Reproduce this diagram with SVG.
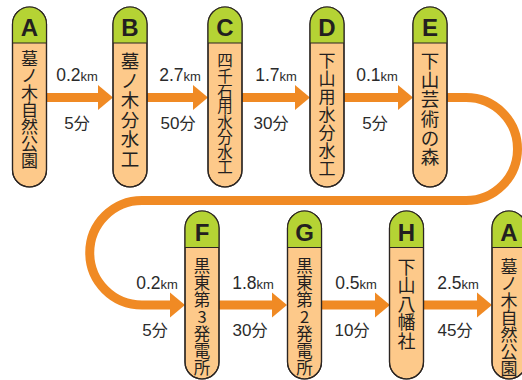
<svg xmlns="http://www.w3.org/2000/svg" width="522" height="380" viewBox="0 0 522 380">
<defs>
<style>
.body{fill:#fdc98a;stroke:#2b2522;stroke-width:1.2}
.head{fill:#b5d334}
.sep{stroke:#2b2522;stroke-width:1.2}
.let{font-family:"Liberation Sans",Arial,sans-serif;font-weight:bold;font-size:24px;fill:#231f20;text-anchor:middle}
.vt{font-family:"Noto Sans CJK JP",sans-serif;fill:#231f20;text-anchor:middle}
.km{font-family:"Liberation Sans","Noto Sans CJK JP",sans-serif;font-size:17.5px;fill:#2b2b2b;text-anchor:middle}
.km tspan.u{font-size:13px}
.min{font-family:"Liberation Sans","Noto Sans CJK JP",sans-serif;font-size:17px;fill:#2b2b2b;text-anchor:middle}
.min tspan.u{font-family:"Noto Sans CJK JP",sans-serif;font-size:16px}
.conn{fill:none;stroke:#f08a24;stroke-width:9}
</style>
<marker id="ah" markerUnits="userSpaceOnUse" markerWidth="16" markerHeight="26" refX="0" refY="12.5" orient="auto" overflow="visible">
<path d="M0,0 L15,12.5 L0,25 Z" fill="#f08a24"/>
</marker>
</defs>

<g id="connectors">
<path class="conn" d="M46,97.5 H98" marker-end="url(#ah)"/>
<path class="conn" d="M147,97.5 H193" marker-end="url(#ah)"/>
<path class="conn" d="M242,97.5 H295" marker-end="url(#ah)"/>
<path class="conn" d="M344,97.5 H398" marker-end="url(#ah)"/>
<path class="conn" d="M446,97.5 H466 A51.5,51.5 0 0 1 466,200.5 H142 A52.25,52.25 0 0 0 142,305 H170" marker-end="url(#ah)"/>
<path class="conn" d="M219,305 H272" marker-end="url(#ah)"/>
<path class="conn" d="M321,305 H375" marker-end="url(#ah)"/>
<path class="conn" d="M423,305 H477" marker-end="url(#ah)"/>
</g>

<g id="labels">
<text class="km" x="77" y="81">0.2<tspan class="u">km</tspan></text>
<text class="min" x="77" y="129">5<tspan class="u">分</tspan></text>
<text class="km" x="180" y="81">2.7<tspan class="u">km</tspan></text>
<text class="min" x="178" y="129">50<tspan class="u">分</tspan></text>
<text class="km" x="276" y="81">1.7<tspan class="u">km</tspan></text>
<text class="min" x="271" y="129">30<tspan class="u">分</tspan></text>
<text class="km" x="377" y="81">0.1<tspan class="u">km</tspan></text>
<text class="min" x="375" y="129">5<tspan class="u">分</tspan></text>
<text class="km" x="157" y="289">0.2<tspan class="u">km</tspan></text>
<text class="min" x="155" y="336">5<tspan class="u">分</tspan></text>
<text class="km" x="253" y="289">1.8<tspan class="u">km</tspan></text>
<text class="min" x="250" y="336">30<tspan class="u">分</tspan></text>
<text class="km" x="356" y="289">0.5<tspan class="u">km</tspan></text>
<text class="min" x="352" y="336">10<tspan class="u">分</tspan></text>
<text class="km" x="458" y="289">2.5<tspan class="u">km</tspan></text>
<text class="min" x="455" y="336">45<tspan class="u">分</tspan></text>
</g>

<g id="node-A">
<rect class="body" x="12.5" y="7" width="34" height="180" rx="17"/>
<path class="head" d="M12.5,43 V24 A17,17 0 0 1 46.5,24 V43 Z"/>
<rect x="12.5" y="7" width="34" height="180" rx="17" fill="none" stroke="#2b2522" stroke-width="1.2"/>
<line class="sep" x1="12.5" y1="43" x2="46.5" y2="43"/>
<text class="let" x="29.5" y="36">A</text>
<text class="vt" font-size="17"><tspan x="29.5" y="64.6">墓</tspan><tspan x="29.5" y="81.6">ノ</tspan><tspan x="29.5" y="98.6">木</tspan><tspan x="29.5" y="115.6">自</tspan><tspan x="29.5" y="132.6">然</tspan><tspan x="29.5" y="149.6">公</tspan><tspan x="29.5" y="166.6">園</tspan></text>
</g>

<g id="node-B">
<rect class="body" x="113" y="7" width="34" height="180" rx="17"/>
<path class="head" d="M113,43 V24 A17,17 0 0 1 147,24 V43 Z"/>
<rect x="113" y="7" width="34" height="180" rx="17" fill="none" stroke="#2b2522" stroke-width="1.2"/>
<line class="sep" x1="113" y1="43" x2="147" y2="43"/>
<text class="let" x="130" y="36">B</text>
<text class="vt" font-size="18.5"><tspan x="130" y="68">墓</tspan><tspan x="130" y="87.6">ノ</tspan><tspan x="130" y="107.2">木</tspan><tspan x="130" y="126.8">分</tspan><tspan x="130" y="146.4">水</tspan><tspan x="130" y="166">工</tspan></text>
</g>

<g id="node-C">
<rect class="body" x="208" y="7" width="34" height="180" rx="17"/>
<path class="head" d="M208,43 V24 A17,17 0 0 1 242,24 V43 Z"/>
<rect x="208" y="7" width="34" height="180" rx="17" fill="none" stroke="#2b2522" stroke-width="1.2"/>
<line class="sep" x1="208" y1="43" x2="242" y2="43"/>
<text class="let" x="225" y="36">C</text>
<text class="vt" font-size="15.5"><tspan x="225" y="66.3">四</tspan><tspan x="225" y="81.6">千</tspan><tspan x="225" y="96.9">石</tspan><tspan x="225" y="112.2">用</tspan><tspan x="225" y="127.5">水</tspan><tspan x="225" y="142.8">分</tspan><tspan x="225" y="158.1">水</tspan><tspan x="225" y="173.4">工</tspan></text>
</g>

<g id="node-D">
<rect class="body" x="310" y="7" width="34" height="180" rx="17"/>
<path class="head" d="M310,43 V24 A17,17 0 0 1 344,24 V43 Z"/>
<rect x="310" y="7" width="34" height="180" rx="17" fill="none" stroke="#2b2522" stroke-width="1.2"/>
<line class="sep" x1="310" y1="43" x2="344" y2="43"/>
<text class="let" x="327" y="36">D</text>
<text class="vt" font-size="17"><tspan x="327" y="66.6">下</tspan><tspan x="327" y="84.6">山</tspan><tspan x="327" y="102.6">用</tspan><tspan x="327" y="120.6">水</tspan><tspan x="327" y="138.6">分</tspan><tspan x="327" y="156.6">水</tspan><tspan x="327" y="174.6">工</tspan></text>
</g>

<g id="node-E">
<rect class="body" x="413" y="7" width="34" height="180" rx="17"/>
<path class="head" d="M413,43 V24 A17,17 0 0 1 447,24 V43 Z"/>
<rect x="413" y="7" width="34" height="180" rx="17" fill="none" stroke="#2b2522" stroke-width="1.2"/>
<line class="sep" x1="413" y1="43" x2="447" y2="43"/>
<text class="let" x="430" y="36">E</text>
<text class="vt" font-size="18.5"><tspan x="430" y="68">下</tspan><tspan x="430" y="87.2">山</tspan><tspan x="430" y="106.4">芸</tspan><tspan x="430" y="125.6">術</tspan><tspan x="430" y="144.8">の</tspan><tspan x="430" y="164">森</tspan></text>
</g>

<g id="node-F">
<rect class="body" x="185" y="211" width="34" height="168" rx="17"/>
<path class="head" d="M185,247.5 V228 A17,17 0 0 1 219,228 V247.5 Z"/>
<rect x="185" y="211" width="34" height="168" rx="17" fill="none" stroke="#2b2522" stroke-width="1.2"/>
<line class="sep" x1="185" y1="247.5" x2="219" y2="247.5"/>
<text class="let" x="202" y="240.7">F</text>
<text class="vt" font-size="16.5"><tspan x="202" y="272">黒</tspan><tspan x="202" y="289">東</tspan><tspan x="202" y="306">第</tspan><tspan x="202" y="323">3</tspan><tspan x="202" y="340">発</tspan><tspan x="202" y="357">電</tspan><tspan x="202" y="374">所</tspan></text>
</g>

<g id="node-G">
<rect class="body" x="287.5" y="211" width="34" height="168" rx="17"/>
<path class="head" d="M287.5,247.5 V228 A17,17 0 0 1 321.5,228 V247.5 Z"/>
<rect x="287.5" y="211" width="34" height="168" rx="17" fill="none" stroke="#2b2522" stroke-width="1.2"/>
<line class="sep" x1="287.5" y1="247.5" x2="321.5" y2="247.5"/>
<text class="let" x="304.5" y="240.7">G</text>
<text class="vt" font-size="16.5"><tspan x="304.5" y="272">黒</tspan><tspan x="304.5" y="289">東</tspan><tspan x="304.5" y="306">第</tspan><tspan x="304.5" y="323">2</tspan><tspan x="304.5" y="340">発</tspan><tspan x="304.5" y="357">電</tspan><tspan x="304.5" y="374">所</tspan></text>
</g>

<g id="node-H">
<rect class="body" x="389.5" y="211" width="34" height="168" rx="17"/>
<path class="head" d="M389.5,247.5 V228 A17,17 0 0 1 423.5,228 V247.5 Z"/>
<rect x="389.5" y="211" width="34" height="168" rx="17" fill="none" stroke="#2b2522" stroke-width="1.2"/>
<line class="sep" x1="389.5" y1="247.5" x2="423.5" y2="247.5"/>
<text class="let" x="406.5" y="240.7">H</text>
<text class="vt" font-size="18"><tspan x="406.5" y="273.5">下</tspan><tspan x="406.5" y="292">山</tspan><tspan x="406.5" y="310.5">八</tspan><tspan x="406.5" y="329">幡</tspan><tspan x="406.5" y="347.5">社</tspan></text>
</g>

<g id="node-A2">
<rect class="body" x="492" y="211" width="34" height="168" rx="17"/>
<path class="head" d="M492,247.5 V228 A17,17 0 0 1 526,228 V247.5 Z"/>
<rect x="492" y="211" width="34" height="168" rx="17" fill="none" stroke="#2b2522" stroke-width="1.2"/>
<line class="sep" x1="492" y1="247.5" x2="526" y2="247.5"/>
<text class="let" x="509" y="240.7">A</text>
<text class="vt" font-size="17"><tspan x="509" y="272.6">墓</tspan><tspan x="509" y="289.6">ノ</tspan><tspan x="509" y="306.6">木</tspan><tspan x="509" y="323.6">自</tspan><tspan x="509" y="340.6">然</tspan><tspan x="509" y="357.6">公</tspan><tspan x="509" y="374.6">園</tspan></text>
</g>
</svg>
